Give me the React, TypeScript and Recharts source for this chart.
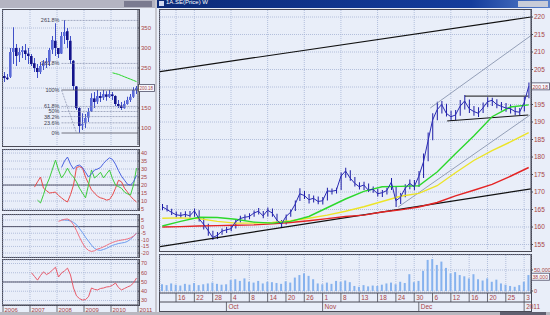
import React from 'react';
import { ComposedChart, Bar, Line, XAxis, YAxis, CartesianGrid, ReferenceLine, Cell } from 'recharts';

// ---------- main (daily) chart data ----------
const mainCloses = [165.8,165.0,164.2,163.5,163.3,163.6,163.2,164.6,162.4,160.8,
 159.0,157.0,157.6,158.8,159.2,159.5,161.5,162.4,162.8,163.0,
 164.0,164.5,163.2,164.8,164.0,162.0,160.8,163.0,164.2,166.5,
 169.5,169.0,167.8,168.2,167.3,167.5,170.3,170.2,170.5,174.5,
 176.0,174.0,172.5,171.5,172.0,170.5,170.8,169.5,169.8,170.4,
 172.8,167.5,168.5,171.0,172.5,171.5,174.5,178.5,184.5,190.5,
 193.5,195.0,192.5,191.5,192.0,194.5,196.0,193.8,193.0,192.5,
 194.0,195.8,196.2,195.0,194.5,194.0,193.8,193.0,192.8,195.5,200.2];
const mainHighs = [166.6,166.3,165.2,164.4,164.2,164.5,164.6,165.3,164.8,162.5,
 160.9,158.9,158.6,159.6,160.0,160.6,162.3,163.2,163.6,163.9,
 164.7,165.4,164.6,165.6,165.3,163.8,162.0,163.6,165.0,167.6,
 171.1,170.3,169.4,169.0,168.7,168.6,171.2,171.0,171.2,175.6,
 176.9,176.2,174.3,172.8,172.9,172.4,171.6,170.9,170.6,171.2,
 174.0,171.5,169.7,172.2,173.6,173.4,176.0,181.0,187.0,192.5,
 195.8,196.0,195.2,193.2,193.4,196.3,197.7,196.4,194.6,194.2,
 195.6,197.1,196.9,196.5,195.7,195.4,195.0,194.3,194.0,197.2,201.3];
const mainLows = [164.8,164.4,163.4,162.8,162.6,162.8,162.7,162.9,161.6,159.3,
 157.5,156.3,156.6,157.8,158.3,158.8,159.6,161.3,161.9,162.2,
 162.9,163.6,162.5,163.0,162.9,161.2,159.9,160.7,162.9,164.6,
 167.4,168.0,166.7,167.0,166.5,166.4,167.6,169.3,169.6,170.6,
 174.1,173.2,171.6,170.7,170.6,170.0,169.8,168.7,168.6,169.3,
 170.6,165.7,166.6,168.5,170.8,170.5,171.4,174.0,178.8,184.8,
 190.5,192.4,191.6,190.3,190.5,191.8,193.6,192.6,191.8,191.4,
 192.6,194.2,194.6,193.9,193.3,192.9,192.4,191.9,192.0,193.0,196.8];
const mainVolumes = [16,14,18,15,13,17,15,19,14,16,
 18,20,17,15,16,26,28,24,30,22,
 20,24,18,22,21,19,17,23,20,32,
 38,42,36,28,18,16,20,17,24,22,
 25,21,12,10,14,11,13,12,15,18,
 20,16,22,19,40,21,24,48,74,76,
 62,70,55,42,45,38,35,30,40,28,
 25,30,22,27,18,15,12,10,14,22,38];

// moving averages, sampled every 4th session
const maStep = 4;
const maGreen = [160.3,161.6,162.8,162.7,162.2,161.4,161.1,161.6,163.0,165.5,168.0,170.2,171.5,171.6,171.8,175.7,180.9,186.0,191.5,194.3,194.9];
const maYellow = [162.5,162.6,162.4,161.6,161.1,161.1,161.3,161.8,162.5,163.4,164.5,165.8,167.3,168.8,169.6,171.8,175.5,179.0,181.8,184.3,187.0];
const maRed = [160.0,160.1,160.3,160.4,160.5,160.6,160.9,161.3,161.8,162.4,163.0,163.4,164.3,164.9,165.7,167.0,168.9,170.5,172.2,174.5,177.0];

const dayTickIdx = [3,7,11,15,19,23,27,31,35,39,43,47,51,55,59,63,67,71,75,79];
const dayTickLabels = ['16','22','28','4','8','14','20','26','1','8','13','18','24','30','6','12','16','20','25','3'];
const monthTickIdx = [14,35,56,79];
const monthTickLabels = ['Oct','Nov','Dec','2011'];
const priceTicks = [155,160,165,170,175,180,185,190,195,205,210,215,220];
const gridPriceTicks = [155,160,165,170,175,180,185,190,195,200,205,210,215,220];
const lastPrice = 200.18;

// drawn trendlines (session index, price)
const trendLines = [
  { x1: -0.5, y1: 204.4, x2: 80.5, y2: 220.0, color: '#111111', w: 1.2 },
  { x1: -0.5, y1: 154.4, x2: 80.5, y2: 170.9, color: '#111111', w: 1.2 },
  { x1: 51.5, y1: 165.7, x2: 80.3, y2: 192.0, color: '#8a96b0', w: 0.9 },
  { x1: 58.5, y1: 194.0, x2: 80.5, y2: 214.7, color: '#8a96b0', w: 0.9 },
  { x1: 66.1, y1: 197.4, x2: 79.9, y2: 197.4, color: '#111111', w: 1 },
  { x1: 62.2, y1: 190.3, x2: 79.9, y2: 192.0, color: '#111111', w: 1 },
];

// ---------- left (long-term) chart data ----------
const leftOpen = [230,226,228,290,300,282,290,294,286,280,262,250,240,255,262,266,296,318,300,286,330,342,318,268,204,150,106,112,126,142,174,166,180,176,184,178,184,180,160,156,150,160,170,178,195];
const leftHigh = [240,235,300,352,310,300,305,310,300,285,275,260,265,270,275,300,330,362,300,340,370,350,330,270,205,152,137,135,150,187,190,195,190,195,192,195,190,182,170,165,168,178,185,202,205];
const leftLow = [215,220,225,260,255,265,275,270,260,255,240,225,235,245,250,255,285,280,275,285,310,300,260,195,145,88,95,100,115,140,150,160,165,170,168,175,170,155,150,145,148,158,165,175,185];
const leftClose = [225,222,290,300,280,290,295,285,280,260,250,240,255,262,265,295,320,300,285,330,340,320,270,205,150,105,110,125,140,175,165,180,175,185,178,185,180,160,155,150,160,170,178,195,200];
const N = null;
const leftMA = [N,N,N,N,N,N,N,N,N,N,N,N,N,N,N,N,N,N,N,N,N,N,N,N,N,N,N,N,N,N,N,N,N,N,N,N,238,236,234,231,228,225,222,219,216];
const dmiRed = [N,N,N,N,N,N,N,N,N,N,18.7,22,25,18,16.5,15,15.3,15.6,13.5,12,10.5,9.4,14,20,31,31.5,30.6,25,21,17,15,13,12,11.5,10.6,11,13.7,18,23,22,18,15.6,13,11,9.4];
const dmiGreen = [N,N,N,N,N,N,N,N,N,N,N,10.6,8.8,14,20,24.4,30,35.6,29.4,24.4,27,30.6,27,25,22,18,15,12,20,29.4,24.4,26,28,24.4,27,29.4,24,20,19,18,15.6,14.5,13.8,20,30.6];
const dmiBlue = [N,N,N,N,N,N,N,N,N,N,N,N,N,N,N,N,N,N,N,31,35,37.5,33,30,32,32.5,31,28,25,27,29.4,30,31,33.5,35.5,37,36,33,29,25.5,23,20.5,20,22,26];
const macdRed = [N,N,N,N,N,N,N,N,N,N,N,N,N,N,N,N,N,N,4,4.8,5.5,5.8,4.5,1.5,-3,-8,-12.5,-16,-18,-18.8,-18.3,-17,-16.3,-15.3,-14.2,-13,-12,-11.2,-10.6,-10.2,-9.8,-9.3,-8.5,-7.2,-5];
const macdBlue = [N,N,N,N,N,N,N,N,N,N,N,N,N,N,N,N,N,N,N,5.2,5,4.8,4.3,3.2,1.5,-1.5,-4.5,-8,-11,-14,-16.5,-17.6,-18,-17.3,-16.5,-15.3,-14.2,-13.5,-12.8,-12.4,-12,-11.2,-9.5,-7.5,-5];
const rsiRed = [N,N,N,N,N,N,N,N,N,60,56,52,57,61,58,60,63,66,55.4,59.7,62,65,57.6,43.5,35,32,30.5,31,34,43.5,42,41.4,43,43.5,44.6,45,46.5,48.9,44,41.4,43,44.6,46,48.9,54.3];

const yearTickIdx = [0,9,18,27,36,45];
const yearLabels = ['2006','2007','2008','2009','2010','2011'];
const leftPriceTicks = [100,150,250,300,350];
const leftGridTicks = [100,150,200,250,300,350];
const dmiTicks = [5,10,15,20,25,30,35,40];
const macdTicks = [5,0,-5,-10,-15,-20];
const rsiTicks = [30,40,50,60,70];
const fibLow = 87.5;
const fibHigh = 195;
const fibPcts = [0,23.6,38.2,50,61.8,100,161.8,261.8];
const fibLabels = ['0%','23.6%','38.2%','50%','61.8%','100%','161.8%','261.8%'];

// ---------- styling ----------
const FONT = '"Liberation Sans", Arial, sans-serif';
const LABEL = '#a84444';
const GRID = '#a4b2d4';
const PANEL_BG = '#e9eef9';
const CHROME = '#c6c6ce';
const FRAME = '#4a4a56';
const NAVY = '#1c1ca6';

const mainData = mainCloses.map((c, i) => ({
  i,
  c,
  hl: [mainLows[i], mainHighs[i]],
  v: mainVolumes[i],
  g: i % maStep === 0 ? maGreen[i / maStep] : null,
  yl: i % maStep === 0 ? maYellow[i / maStep] : null,
  r: i % maStep === 0 ? maRed[i / maStep] : null,
}));

const leftData = leftClose.map((c, k) => ({
  t: k + 0.5,
  body: [Math.min(leftOpen[k], c), Math.max(leftOpen[k], c)],
  wick: [leftLow[k], leftHigh[k]],
  up: c >= leftOpen[k],
  ma: leftMA[k],
  dr: dmiRed[k],
  dg: dmiGreen[k],
  db: dmiBlue[k],
  mr: macdRed[k],
  mb: macdBlue[k],
  rs: rsiRed[k],
}));

const tickStyle = (size: number) => ({ fontSize: size, fill: LABEL, fontFamily: FONT });

const valueBox = (text: string, w: number) => (props: any) => {
  const vb = props.viewBox || {};
  const x = (vb.x || 0) + (vb.width || 0);
  const y = vb.y || 0;
  return (
    <g>
      <rect x={x + 0.5} y={y - 3.5} width={w} height={7} fill="#f6f8fe" stroke="#505068" strokeWidth={0.8} />
      <text x={x + 1.5} y={y + 2.2} fontSize={5.5} fill={LABEL} fontFamily={FONT} textLength={w - 2.5} lengthAdjust="spacingAndGlyphs">{text}</text>
    </g>
  );
};

const DayTick = (props: any) => {
  const { x, y, payload } = props;
  const idx = dayTickIdx.indexOf(payload.value);
  return (
    <g>
      <line x1={x} y1={y} x2={x} y2={y + 9} stroke={FRAME} strokeWidth={0.8} />
      <text x={x + 2} y={y + 7} fontSize={6.5} fill={LABEL} fontFamily={FONT}>{dayTickLabels[idx]}</text>
    </g>
  );
};

const MonthTick = (props: any) => {
  const { x, y, payload } = props;
  const idx = monthTickIdx.indexOf(payload.value);
  return (
    <g>
      <line x1={x} y1={y} x2={x} y2={y + 9} stroke={FRAME} strokeWidth={0.8} />
      <text x={x + 2} y={y + 7} fontSize={6.5} fill={LABEL} fontFamily={FONT}>{monthTickLabels[idx]}</text>
    </g>
  );
};

const YearTick = (props: any) => {
  const { x, y, payload } = props;
  const idx = yearTickIdx.indexOf(payload.value);
  return (
    <g>
      <line x1={x} y1={y} x2={x} y2={y + 8} stroke={FRAME} strokeWidth={0.8} />
      <text x={x + 1.5} y={y + 6.5} fontSize={6} fill={LABEL} fontFamily={FONT}>{yearLabels[idx]}</text>
    </g>
  );
};

const box = (l: number, t: number, w: number, h: number, extra: any = {}) => (
  <div style={{ position: 'absolute', left: l, top: t, width: w, height: h, boxSizing: 'border-box', ...extra }} />
);

function MainChart() {
  return (
    <div style={{ position: 'absolute', left: 159, top: 9 }}>
      <ComposedChart width={391} height={242} data={mainData} margin={{ top: 1, right: 0, bottom: 1, left: 1 }}>
        <CartesianGrid stroke={GRID} strokeDasharray="1 1" strokeWidth={0.8} horizontalValues={gridPriceTicks} />
        <XAxis dataKey="i" type="number" domain={[-0.5, 80.5]} ticks={dayTickIdx} hide allowDataOverflow />
        <YAxis orientation="right" width={19} type="number" domain={[153.43, 222]} ticks={priceTicks} interval={0}
          allowDataOverflow tick={tickStyle(6.5)} tickSize={2} tickMargin={1}
          axisLine={{ stroke: FRAME }} tickLine={{ stroke: FRAME }} />
        {trendLines.map((l, n) => (
          <ReferenceLine key={n} segment={[{ x: l.x1, y: l.y1 }, { x: l.x2, y: l.y2 }]} stroke={l.color} strokeWidth={l.w} ifOverflow="hidden" />
        ))}
        <Line dataKey="r" stroke="#e42424" strokeWidth={1.4} dot={false} connectNulls isAnimationActive={false} />
        <Line dataKey="yl" stroke="#ece428" strokeWidth={1.4} dot={false} connectNulls isAnimationActive={false} />
        <Line dataKey="g" stroke="#2cd82c" strokeWidth={1.4} dot={false} connectNulls isAnimationActive={false} />
        <Bar dataKey="hl" barSize={1} fill={NAVY} isAnimationActive={false} />
        <Line dataKey="c" stroke="#2a2ab4" strokeWidth={1} dot={false} isAnimationActive={false} />
        <ReferenceLine y={lastPrice} stroke="none" label={{ content: valueBox(lastPrice.toFixed(2), 18) }} />
      </ComposedChart>
    </div>
  );
}

function VolumeChart() {
  const lastVol = mainVolumes[mainVolumes.length - 1];
  return (
    <div style={{ position: 'absolute', left: 159, top: 254 }}>
      <ComposedChart width={391} height={57} data={mainData} margin={{ top: 1, right: 0, bottom: 0, left: 1 }}>
        <CartesianGrid xAxisId="d" stroke={GRID} strokeDasharray="1 1" strokeWidth={0.8} />
        <XAxis xAxisId="d" dataKey="i" type="number" domain={[-0.5, 80.5]} ticks={dayTickIdx} interval={0}
          height={9} tickSize={0} tickMargin={0} tick={<DayTick />} axisLine={{ stroke: FRAME }} allowDataOverflow />
        <XAxis xAxisId="m" dataKey="i" type="number" domain={[-0.5, 80.5]} ticks={monthTickIdx} interval={0}
          height={9} tickSize={0} tickMargin={0} tick={<MonthTick />} axisLine={{ stroke: FRAME }} allowDataOverflow />
        <YAxis orientation="right" width={19} type="number" domain={[-4.76, 85.7]} ticks={[0, 50]} interval={0}
          allowDataOverflow tick={tickStyle(5.5)} tickSize={2} tickMargin={1}
          tickFormatter={(v: number) => (v === 0 ? '0' : (v * 1000).toLocaleString('en-US'))}
          axisLine={{ stroke: FRAME }} tickLine={{ stroke: FRAME }} />
        <Bar xAxisId="d" dataKey="v" barSize={2} fill="#86b2ee" isAnimationActive={false} />
        <ReferenceLine xAxisId="d" y={lastVol - 4} stroke="none" label={{ content: valueBox((lastVol * 1000).toLocaleString('en-US'), 18) }} />
      </ComposedChart>
    </div>
  );
}

function LeftPrice() {
  return (
    <div style={{ position: 'absolute', left: 2, top: 9 }}>
      <ComposedChart width={153} height={137} data={leftData} margin={{ top: 1, right: 0, bottom: 1, left: 1 }}>
        <CartesianGrid xAxisId="a" stroke={GRID} strokeDasharray="1 1" strokeWidth={0.8} horizontalValues={leftGridTicks} />
        <XAxis xAxisId="a" dataKey="t" type="number" domain={[0, 45]} ticks={[9, 18, 27, 36]} hide allowDataOverflow />
        <XAxis xAxisId="b" dataKey="t" type="number" domain={[0, 45]} hide allowDataOverflow />
        <YAxis orientation="right" width={17} type="number" domain={[57.5, 395]} ticks={leftPriceTicks} interval={0}
          allowDataOverflow tick={tickStyle(6)} tickSize={2} tickMargin={1}
          axisLine={{ stroke: FRAME }} tickLine={{ stroke: FRAME }} />
        {fibPcts.map((p, n) => (
          <ReferenceLine key={n} xAxisId="a"
            segment={[{ x: 19.5, y: fibLow + (p / 100) * (fibHigh - fibLow) }, { x: 45, y: fibLow + (p / 100) * (fibHigh - fibLow) }]}
            stroke={p === 0 || p === 100 ? '#505060' : '#9098b4'} strokeWidth={0.8}
            strokeDasharray={p === 0 || p === 100 ? undefined : '2 1'}
            label={{ value: fibLabels[n], position: 'left', offset: 2, fontSize: 5.5, fill: '#404050', fontFamily: FONT }} />
        ))}
        <ReferenceLine xAxisId="a" segment={[{ x: 19.5, y: fibHigh }, { x: 24.5, y: fibLow }]} stroke="#9098b4" strokeDasharray="2 1" strokeWidth={0.8} />
        <Bar xAxisId="b" dataKey="wick" barSize={1} fill="#4050c8" isAnimationActive={false} />
        <Bar xAxisId="a" dataKey="body" barSize={2.6} isAnimationActive={false}>
          {leftData.map((d, n) => (
            <Cell key={n} fill={d.up ? '#5a6ad8' : '#14148c'} />
          ))}
        </Bar>
        <Line xAxisId="a" dataKey="ma" stroke="#2cd82c" strokeWidth={1} dot={false} connectNulls isAnimationActive={false} />
        <ReferenceLine xAxisId="a" y={lastPrice} stroke="none" label={{ content: valueBox(lastPrice.toFixed(2), 16) }} />
      </ComposedChart>
    </div>
  );
}

function LeftPanel(props: { top: number; height: number; domain: [number, number]; ticks: number[]; base: number; lines: { key: string; color: string }[]; years?: boolean }) {
  const { top, height, domain, ticks, base, lines, years } = props;
  return (
    <div style={{ position: 'absolute', left: 2, top }}>
      <ComposedChart width={153} height={height} data={leftData} margin={{ top: 1, right: 0, bottom: years ? 0 : 1, left: 1 }}>
        <CartesianGrid stroke={GRID} strokeDasharray="1 1" strokeWidth={0.8} />
        {years ? (
          <XAxis dataKey="t" type="number" domain={[0, 45]} ticks={yearTickIdx} interval={0} height={9}
            tickSize={0} tickMargin={0} tick={<YearTick />} axisLine={{ stroke: FRAME }} allowDataOverflow />
        ) : (
          <XAxis dataKey="t" type="number" domain={[0, 45]} ticks={[9, 18, 27, 36]} hide allowDataOverflow />
        )}
        <YAxis orientation="right" width={17} type="number" domain={domain} ticks={ticks} interval={0}
          allowDataOverflow tick={tickStyle(5.5)} tickSize={2} tickMargin={1}
          axisLine={{ stroke: FRAME }} tickLine={{ stroke: FRAME }} />
        <ReferenceLine y={base} stroke="#44445a" strokeWidth={0.9} />
        {lines.map((l) => (
          <Line key={l.key} dataKey={l.key} stroke={l.color} strokeWidth={1} dot={false} connectNulls isAnimationActive={false} />
        ))}
      </ComposedChart>
    </div>
  );
}

export default function App() {
  return (
    <div style={{ position: 'fixed', left: 0, top: 0, width: 550, height: 315, background: CHROME, overflow: 'hidden', fontFamily: FONT }}>
      {/* left window */}
      {box(0, 0, 155, 8, { background: '#b4b4c2' })}
      <div style={{ position: 'absolute', left: 124, top: 1, width: 28, height: 6, background: '#7a7a90' }} />
      {box(0, 8, 155, 305, { background: PANEL_BG })}
      {box(2, 9, 138, 138, { border: `1px solid ${FRAME}` })}
      {box(2, 149, 138, 62, { border: `1px solid ${FRAME}` })}
      {box(2, 214, 138, 44, { border: `1px solid ${FRAME}` })}
      {box(2, 259, 138, 47, { border: `1px solid ${FRAME}` })}
      <LeftPrice />
      <LeftPanel top={149} height={62} domain={[4.4, 41.9]} ticks={dmiTicks} base={20}
        lines={[{ key: 'dr', color: '#e84a4a' }, { key: 'dg', color: '#3ccc3c' }, { key: 'db', color: '#4a62e0' }]} />
      <LeftPanel top={214} height={44} domain={[-23, 8.8]} ticks={macdTicks} base={0}
        lines={[{ key: 'mb', color: '#6c9cf0' }, { key: 'mr', color: '#f07080' }]} />
      <LeftPanel top={259} height={55} domain={[25.1, 73.8]} ticks={rsiTicks} base={50} years
        lines={[{ key: 'rs', color: '#e85a6a' }]} />

      {/* main window */}
      {box(157, 0, 393, 8, { background: 'linear-gradient(90deg, #0c2a78 0%, #143c9c 80%, #5a82cc 100%)' })}
      <div style={{ position: 'absolute', left: 159, top: 1, width: 5, height: 5, background: '#d0d8f0' }} />
      <div style={{ position: 'absolute', left: 166, top: -1, fontSize: 6, color: '#ffffff', fontFamily: FONT, whiteSpace: 'nowrap' }}>1A.SE(Price) W</div>
      <div style={{ position: 'absolute', left: 518, top: 1, width: 30, height: 6, background: '#c8ccd8' }} />
      {box(157, 8, 393, 305, { background: PANEL_BG })}
      {box(159, 9, 373, 243, { border: `1px solid ${FRAME}` })}
      {box(159, 254, 373, 58, { border: `1px solid ${FRAME}` })}
      <MainChart />
      <VolumeChart />
      {box(0, 312, 550, 3, { background: '#b8b8c0' })}
      {box(500, 312, 46, 3, { background: '#606070' })}
    </div>
  );
}
